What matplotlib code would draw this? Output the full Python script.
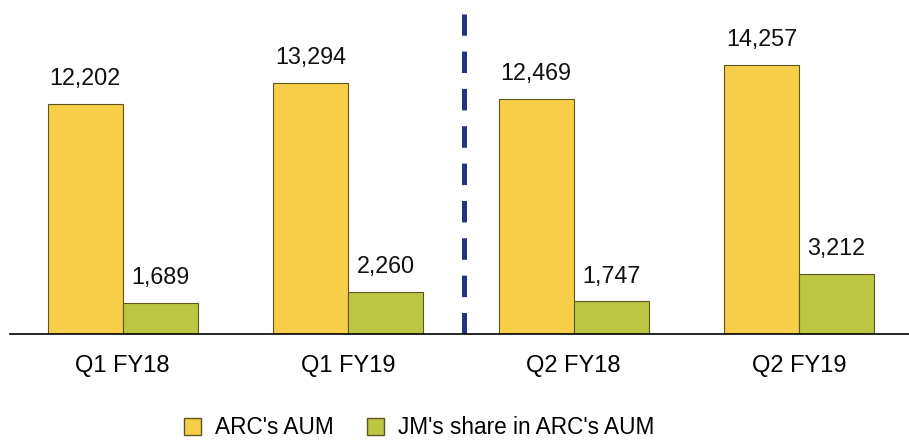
import numpy as np
import matplotlib
matplotlib.use('Agg')
import matplotlib.pyplot as plt
from matplotlib.patches import Patch

plt.rcParams['font.family'] = ['Liberation Sans', 'DejaVu Sans']

quarters = ['Q1 FY18', 'Q1 FY19', 'Q2 FY18', 'Q2 FY19']
arc_aum = [12202, 13294, 12469, 14257]
jm_share = [1689, 2260, 1747, 3212]
series_names = ["ARC's AUM", "JM's share in ARC's AUM"]

yellow = '#f7ce48'
green = '#bbc643'
edge = '#5e5420'

fig = plt.figure(figsize=(9.09, 4.41), dpi=100)
ax = fig.add_axes([0.011, 0.2415, 0.992, 0.729])

x = np.arange(len(quarters))
w = 0.333
b1 = ax.bar(x - w / 2, arc_aum, w, color=yellow, edgecolor=edge, linewidth=0.8)
b2 = ax.bar(x + w / 2, jm_share, w, color=green, edgecolor=edge, linewidth=0.8)

for bars, vals in ((b1, arc_aum), (b2, jm_share)):
    for r, v in zip(bars, vals):
        ax.annotate(f'{v:,}', (r.get_x() + r.get_width() / 2, v),
                    xytext=(0, 10), textcoords='offset points',
                    ha='center', va='bottom', fontsize=16.8, color='#111111')

# separator between Q1 and Q2
ax.axvline(1.512, ymin=0, ymax=0.997, color='#22337f', linewidth=3.6,
           linestyle=(0, (4.3, 3.17)))

ax.set_xlim(-0.5, 3.5)
ax.set_ylim(0, 17000)
ax.set_xticks(x)
ax.set_xticklabels(quarters, fontsize=17)
ax.tick_params(axis='x', length=0, pad=14.5)
ax.set_yticks([])
for s in ['top', 'right', 'left']:
    ax.spines[s].set_visible(False)
ax.spines['bottom'].set_linewidth(1.2)

handles = [Patch(facecolor=yellow, edgecolor=edge), Patch(facecolor=green, edgecolor=edge)]
fig.legend(handles, series_names, loc='center', bbox_to_anchor=(0.461, 0.03),
           ncol=2, frameon=False, fontsize=16.3, handlelength=0.75, handleheight=0.75,
           handletextpad=0.6, columnspacing=1.5, borderaxespad=0, borderpad=0)

fig.savefig('out.png', dpi=100)
